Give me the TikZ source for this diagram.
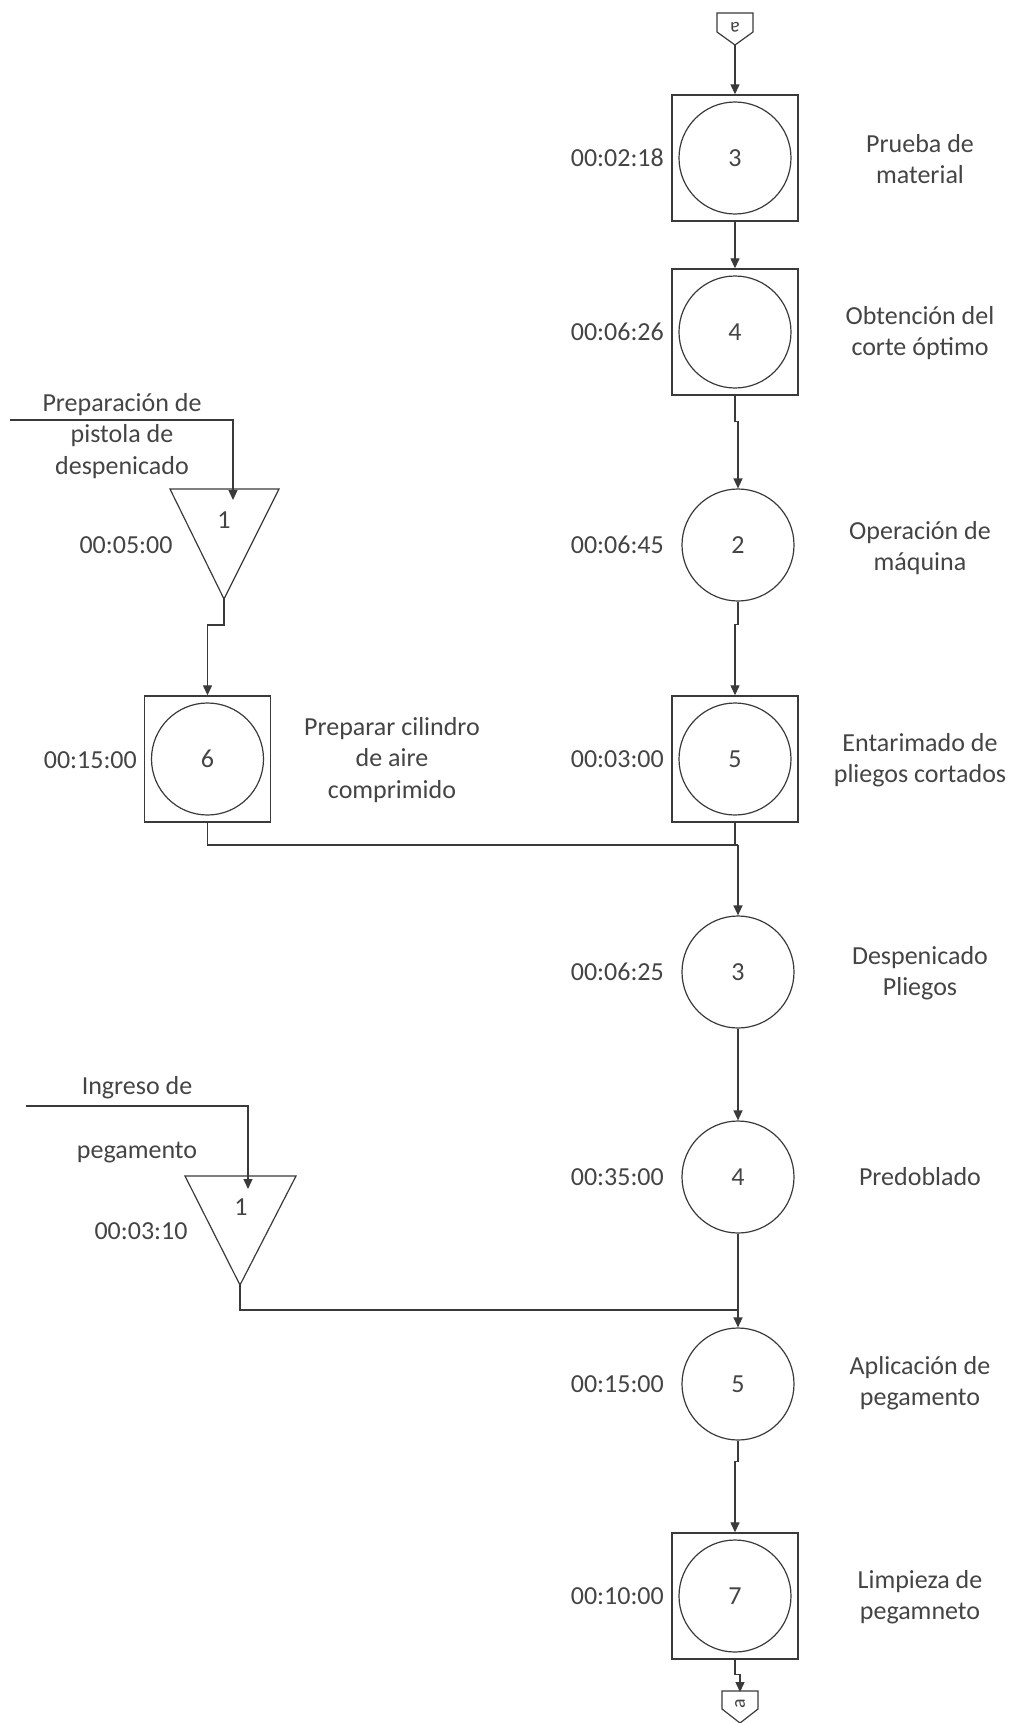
\documentclass[tikz,border=0pt]{standalone}
\usepackage{fontspec}
\setmainfont{Carlito}
\usetikzlibrary{arrows.meta}
\definecolor{ink}{HTML}{3A3A3A}
\definecolor{txt}{HTML}{444444}
\newcommand\lblfont{\fontsize{26}{31.5}\selectfont}
\newcommand\tagfont{\fontsize{20}{20}\selectfont}

\begin{document}
\begin{tikzpicture}[x=1pt,y=-1pt,
  line/.style={draw=ink, line width=1.3pt},
  flow/.style={line, -{Triangle[length=10pt,width=9pt]}},
  opbox/.style={draw=ink, line width=1.4pt, minimum size=126pt, inner sep=0pt},
  opcirc/.style={circle, draw=ink, line width=1.2pt, minimum size=112pt,
                 inner sep=0pt, font=\lblfont, text=txt},
  lbl/.style={text=txt, font=\lblfont, align=center, inner sep=0pt},
  time/.style={lbl, anchor=east},
  shapeline/.style={draw=ink, line width=1.2pt, line join=miter},
]
\useasboundingbox (0,0) rectangle (1020,1723);

% ---------- off-page connector (in) ----------
\draw[shapeline] (717,13) -- (753,13) -- (753,32) -- (735,45) -- (717,32) -- cycle;
\coordinate (conA) at (735,45);
\node[text=txt, font=\tagfont, rotate=180] (tagA) at (735,27) {a};

% ---------- main column ----------
\node[opbox] (b1) at (735,158) {};
\node[opcirc] (c1) at (735,158) {3};
\node[time] (t1) at (664,158) {00:02:18};
\node[lbl] (d1) at (920,159) {Prueba de\\material};

\node[opbox] (b2) at (735,332) {};
\node[opcirc] (c2) at (735,332) {4};
\node[time] (t2) at (664,332) {00:06:26};
\node[lbl] (d2) at (920,333) {Obtención del\\corte óptimo};

\node[opcirc] (c3) at (738,545) {2};
\node[time] (t3) at (664,545) {00:06:45};
\node[lbl] (d3) at (920,548) {Operación de\\máquina};

\node[opbox] (b4) at (735,759) {};
\node[opcirc] (c4) at (735,759) {5};
\node[time] (t4) at (664,759) {00:03:00};
\node[lbl] (d4) at (920,760) {Entarimado de\\pliegos cortados};

\node[opcirc] (c5) at (738,972) {3};
\node[time] (t5) at (664,972) {00:06:25};
\node[lbl] (d5) at (920,973) {Despenicado\\Pliegos};

\node[opcirc] (c6) at (738,1177) {4};
\node[time] (t6) at (664,1177) {00:35:00};
\node[lbl] (d6) at (920,1177) {Predoblado};

\node[opcirc] (c7) at (738,1384) {5};
\node[time] (t7) at (664,1384) {00:15:00};
\node[lbl] (d7) at (920,1383) {Aplicación de\\pegamento};

\node[opbox] (b8) at (735,1596) {};
\node[opcirc] (c8) at (735,1596) {7};
\node[time] (t8) at (664,1596) {00:10:00};
\node[lbl] (d8) at (920,1597) {Limpieza de\\pegamneto};

% ---------- off-page connector (out) ----------
\draw[shapeline] (722,1691) -- (758,1691) -- (758,1709) -- (740,1723) -- (722,1709) -- cycle;
\coordinate (conB) at (740,1691);
\node[text=txt, font=\tagfont, rotate=90] (tagB) at (740,1704) {a};

% ---------- left branch 1 ----------
\draw[shapeline] (170,489) -- (279,489) -- (224,599) -- cycle;
\coordinate (tri1top) at (233,489);
\coordinate (tri1apex) at (224,599);
\node[lbl] (n1) at (224,520) {1};
\node[lbl] (tt1) at (126,545) {00:05:00};
\node[lbl] (in1) at (122,436) {Preparación de\\pistola de\\despenicado};
\coordinate (in1start) at (10,420);

\node[opbox] (b6) at (207.5,759) {};
\node[opcirc] (c6l) at (207.5,759) {6};
\node[time] (t6l) at (137,760) {00:15:00};
\node[lbl] (d6l) at (392,760) {Preparar cilindro\\de aire\\comprimido};

% ---------- left branch 2 ----------
\draw[shapeline] (185,1176) -- (296,1176) -- (240,1285) -- cycle;
\coordinate (tri2top) at (248,1176);
\coordinate (tri2apex) at (240,1285);
\node[lbl] (n2) at (241,1207) {1};
\node[lbl] (tt2) at (141,1231) {00:03:10};
\node[lbl] (in2a) at (137,1088) {Ingreso de};
\node[lbl] (in2b) at (137,1152) {pegamento};
\coordinate (in2start) at (26,1106);

% ---------- junctions ----------
\coordinate (j1) at (738,845);
\coordinate (j2) at (738,1310);

% ---------- connectors ----------
\draw[flow] (conA) -- (b1.north);
\draw[flow] (b1.south) -- (b2.north);
\draw[flow] (b2.south) -- ++(0,26) -| (c3.north);
\draw[flow] (c3.south) -- ++(0,23) -| (b4.north);
\draw[line] (b4.south) -- (b4.south |- j1) -- (j1);
\draw[flow] (j1) -- (c5.north);
\draw[flow] (c5.south) -- (c6.north);
\draw[flow] (c6.south) -- (c7.north);
\draw[flow] (c7.south) -- ++(0,21) -| (b8.north);
\draw[flow] (b8.south) -- ++(0,15) -| ([yshift=-1pt]conB);

\draw[flow] (in1start) -| ([yshift=-11pt]tri1top);
\draw[flow] (tri1apex) -- ++(0,26) -| (b6.north);
\draw[line] (b6.south) |- (j1);

\draw[flow] (in2start) -| ([yshift=-13pt]tri2top);
\draw[line] (tri2apex) |- (j2);
\end{tikzpicture}
\end{document}
